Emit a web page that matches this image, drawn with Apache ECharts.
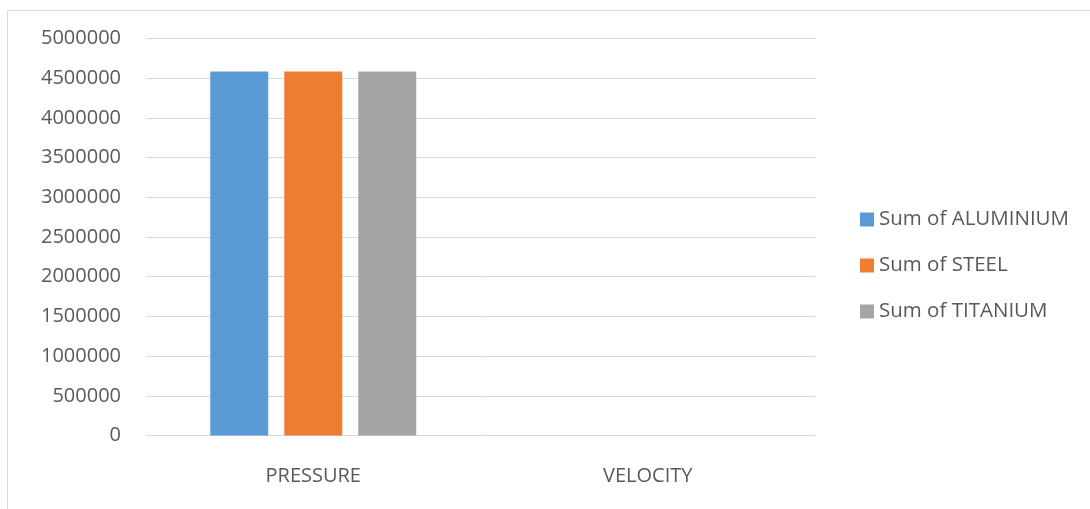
<!DOCTYPE html>
<html>
<head>
<meta charset="utf-8">
<script src="https://cdn.jsdelivr.net/npm/echarts@6/dist/echarts.min.js"></script>
<style>
  html, body { margin: 0; padding: 0; background: #fff; }
  #chart { width: 1090px; height: 509px; }
</style>
</head>
<body>
<div id="chart"></div>
<script>
// Categories and per-material sums
const categories = ['PRESSURE', 'VELOCITY'];
const seriesNames = ['Sum of ALUMINIUM', 'Sum of STEEL', 'Sum of TITANIUM'];
const aluminium = [4584000, 120];
const steel = [4584000, 120];
const titanium = [4584000, 120];
const colors = ['#5b9bd5', '#ed7d31', '#a5a5a5'];

const font = '"Open Sans", "Liberation Sans", sans-serif';
const chart = echarts.init(document.getElementById('chart'));

chart.setOption({
  animation: false,
  backgroundColor: '#ffffff',
  color: colors,
  graphic: [{
    type: 'rect',
    shape: { x: 7.5, y: 10.5, width: 1200, height: 600 },
    style: { fill: 'none', stroke: '#d9d9d9', lineWidth: 1 },
    silent: true
  }],
  grid: { left: 146, right: 275, top: 38.5, bottom: 73.5, containLabel: false },
  legend: {
    orient: 'vertical',
    left: 855,
    top: 204,
    itemWidth: 14,
    itemHeight: 14,
    itemGap: 25,
    icon: 'rect',
    textStyle: { color: '#595959', fontSize: 20.5, fontFamily: font },
    data: seriesNames
  },
  xAxis: {
    type: 'category',
    data: categories,
    axisLine: { lineStyle: { color: '#d9d9d9', width: 1 } },
    axisTick: { show: false },
    axisLabel: { color: '#595959', fontSize: 20, fontFamily: font, margin: 31 }
  },
  yAxis: {
    type: 'value',
    min: 0,
    max: 5000000,
    interval: 500000,
    axisLine: { show: false },
    axisTick: { show: false },
    splitLine: { lineStyle: { color: '#d9d9d9', width: 1 } },
    axisLabel: {
      color: '#595959', fontSize: 20, fontFamily: font, margin: 25,
      formatter: function (v) { return String(v); }
    }
  },
  series: [
    { name: seriesNames[0], type: 'bar', data: aluminium, barWidth: 58, barGap: '27.6%' },
    { name: seriesNames[1], type: 'bar', data: steel, barWidth: 58, barGap: '27.6%' },
    { name: seriesNames[2], type: 'bar', data: titanium, barWidth: 58, barGap: '27.6%' }
  ]
});
</script>
</body>
</html>
